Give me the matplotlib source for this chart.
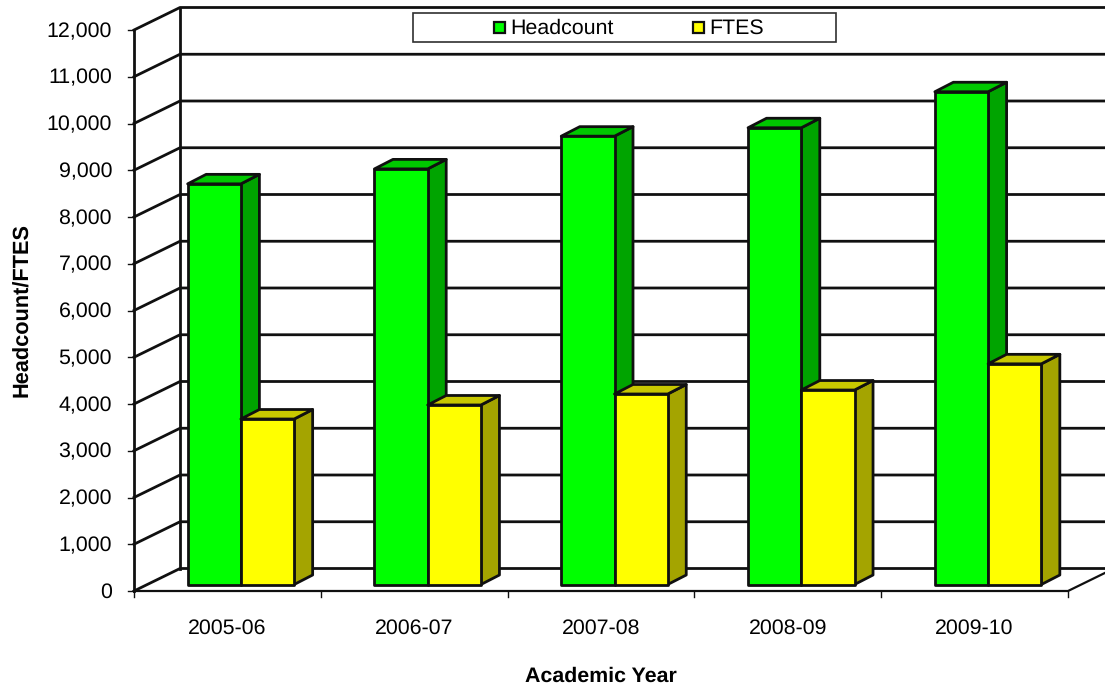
import matplotlib
matplotlib.use("Agg")
import matplotlib.pyplot as plt
from matplotlib.patches import Polygon

years = ["2005-06", "2006-07", "2007-08", "2008-09", "2009-10"]
headcount = [8570, 8890, 9590, 9770, 10540]
ftes = [3540, 3840, 4075, 4160, 4720]
yticks = list(range(0, 13000, 1000))

plt.rcParams['font.family'] = ['Liberation Sans', 'DejaVu Sans']
plt.rcParams['text.hinting'] = 'none'

W, H = 1105, 686
fig = plt.figure(figsize=(W / 100, H / 100), dpi=100)

# front plane of the fake 3d box: x 134..1068, y 591..30 in pixels
left, right, bottom, top = 134, 1068, 591, 30
ax = fig.add_axes([left / W, 1 - bottom / H, (right - left) / W, (bottom - top) / H])
ax.set_xlim(0, 5)
ax.set_ylim(0, 12000)
ax.axis("off")

px = 5 / (right - left)
py = 12000 / (bottom - top)
lw = 2.0
black = "#101010"
fs = 15.4


# depth in pixels -> data offset
def shift(x, y, d):
    return x + d[0] * px, y + d[1] * py


wall = (46, 22.5)
bar_start = (13.5, 6.5)
bar_end = (32, 16)
bar_w = 0.285

# walls and gridlines
for v in yticks:
    x0, y0 = shift(0, v, wall)
    x1, y1 = shift(5, v, wall)
    ax.plot([0, x0, x1], [v, y0, y1], color=black, lw=lw, clip_on=False, zorder=1)
    ax.plot([0, -6 * px], [v, v], color=black, lw=1, clip_on=False, zorder=1)
    ax.text(-22 * px, v - 1.5 * py, f"{v:,}", ha="right", va="center", fontsize=fs, color="black")

xb, yb = shift(0, 0, wall)
xt, yt = shift(0, 12000, wall)
ax.plot([xb, xt], [yb, yt], color=black, lw=lw, clip_on=False, zorder=1)
ax.plot([0, 0], [0, 12000], color=black, lw=lw, clip_on=False, zorder=1)
xr, yr = shift(5, 0, wall)
ax.plot([0, 5, xr], [0, 0, yr], color=black, lw=1.6, clip_on=False, zorder=1)

for i in range(6):
    ax.plot([i, i], [0, -6 * py], color=black, lw=1, clip_on=False, zorder=1)


def box(x0, x1, v, front, side, tops, z):
    a = shift(x0, 0, bar_start)
    b = shift(x1, 0, bar_start)
    c = shift(x1, v, bar_start)
    d = shift(x0, v, bar_start)
    e = shift(x1, 0, bar_end)
    f = shift(x1, v, bar_end)
    g = shift(x0, v, bar_end)
    for pts, col in (([b, e, f, c], side), ([d, c, f, g], tops), ([a, b, c, d], front)):
        ax.add_patch(Polygon(pts, closed=True, facecolor=col, edgecolor=black, lw=lw,
                             joinstyle="round", clip_on=False, zorder=z))


for i in range(len(years)):
    c = i + 0.5
    box(c - bar_w, c, headcount[i], "#00ff00", "#00a400", "#00c800", 3 + i)
    box(c, c + bar_w, ftes[i], "#ffff00", "#a4a400", "#c8c800", 3 + i)
    ax.text(c, -37.5 * py, years[i], ha="center", va="center", fontsize=fs, color="black")

fig.text(601 / W, 1 - 676 / H, "Academic Year", ha="center", va="center",
         fontsize=fs, fontweight="bold")
fig.text(22 / W, 1 - 310 / H, "Headcount/FTES", ha="center", va="center",
         rotation=90, fontsize=15.7, fontweight="bold")

# legend box, hand placed like the original
fig.patches.append(plt.Rectangle((413 / W, 1 - 42 / H), 423 / W, 29 / H, transform=fig.transFigure,
                                 facecolor="white", edgecolor="#303030", lw=1.2, zorder=20))
for sx, label, col in ((494, "Headcount", "#00ff00"), (693, "FTES", "#ffff00")):
    fig.patches.append(plt.Rectangle((sx / W, 1 - 33 / H), 11 / W, 11 / H, transform=fig.transFigure,
                                     facecolor=col, edgecolor=black, lw=1.6, zorder=21))
    fig.text((sx + 16) / W, 1 - 28 / H, label, ha="left", va="center", fontsize=fs, zorder=21)

fig.savefig("out.png", dpi=100)
